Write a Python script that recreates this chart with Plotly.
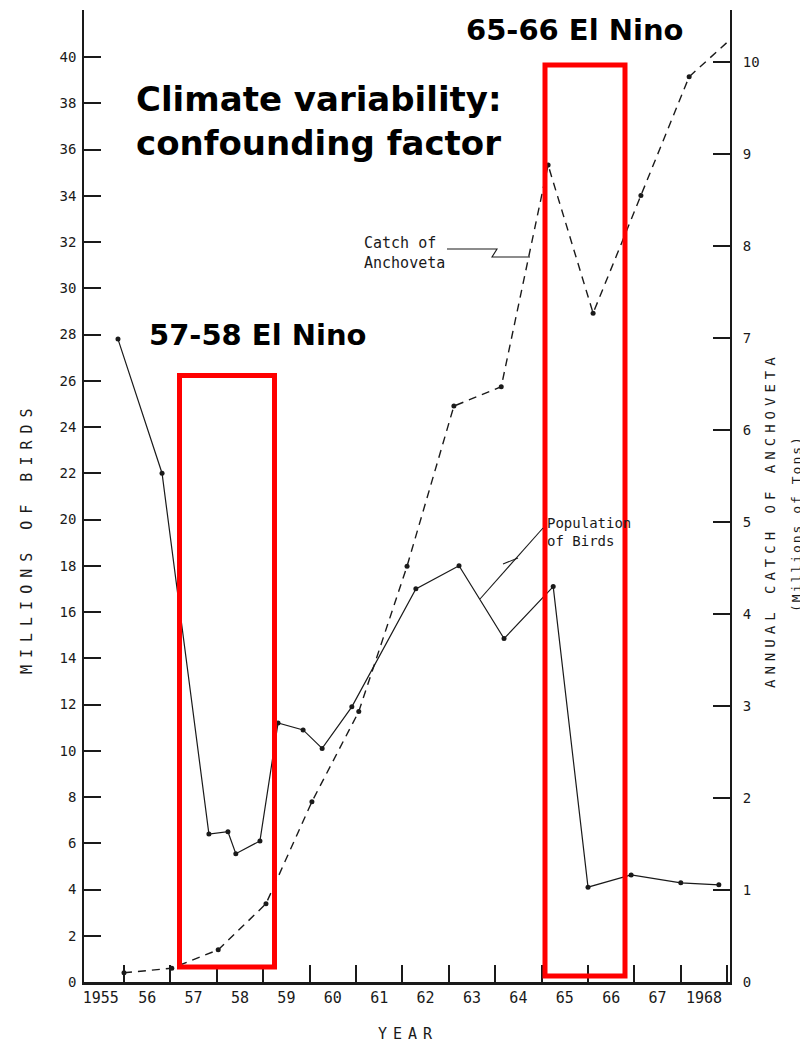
import plotly.graph_objects as go

# ---------------- data ----------------
year_labels = ["1955", "56", "57", "58", "59", "60", "61", "62", "63", "64", "65", "66", "67", "1968"]
label_years = [1955, 1956, 1957, 1958, 1959, 1960, 1961, 1962, 1963, 1964, 1965, 1966, 1967, 1968]

# population of guano birds (millions); census dates in fractional years
bird_time = [1955.37, 1956.32, 1957.33, 1957.74, 1957.91, 1958.43, 1958.82, 1959.36, 1959.77,
             1960.41, 1961.79, 1962.72, 1963.69, 1964.75, 1965.50, 1966.43, 1967.50, 1968.32]
bird_millions = [27.8, 22.0, 6.4, 6.5, 5.55, 6.1, 11.2, 10.9, 10.1,
                 11.9, 17.0, 18.0, 14.85, 17.1, 4.1, 4.63, 4.29, 4.2]

# annual catch of anchoveta (millions of tons), plotted at end of each year
catch_time = [1955.50, 1956.53, 1957.53, 1958.56, 1959.55, 1960.56, 1961.60,
              1962.61, 1963.63, 1964.64, 1965.61, 1966.64, 1967.68, 1968.60]
catch_mt = [0.10, 0.15, 0.35, 0.85, 1.96, 2.94, 4.52, 6.26, 6.47, 8.88, 7.27, 8.55, 9.84, 10.26]

left_ticks = list(range(0, 41, 2))
right_ticks = list(range(0, 11, 1))
year_bounds = [y + 0.5 for y in label_years]

# ---------------- layout geometry (page pixels) ----------------
PAGE_OFF = 8                      # default body margin of the html page
W, H = 808 - PAGE_OFF, 1045 - PAGE_OFF
L, R, T, B = 84, 730, 10, 982     # plot area in page pixels


def px(x):
    return (x - L) / (R - L)


def py(y):
    return (B - y) / (B - T)


INK = "#1a1a1a"
MONO = "DejaVu Sans Mono"

fig = go.Figure()

fig.add_trace(go.Scatter(
    x=bird_time, y=bird_millions, mode="lines+markers",
    line=dict(color=INK, width=1.2),
    marker=dict(color=INK, size=5),
    cliponaxis=False, showlegend=False, yaxis="y"))

fig.add_trace(go.Scatter(
    x=catch_time, y=catch_mt, mode="lines+markers",
    line=dict(color=INK, width=1.4, dash="8px,6px"),
    marker=dict(color=INK, size=5),
    cliponaxis=False, showlegend=False, yaxis="y2"))

# red El Nino boxes and leader lines
shapes = [
    dict(type="rect", xref="paper", yref="paper",
         x0=px(179.5), x1=px(274.5), y0=py(967), y1=py(375.5),
         line=dict(color="#ff0000", width=5)),
    dict(type="rect", xref="paper", yref="paper",
         x0=px(545), x1=px(625), y0=py(976), y1=py(65),
         line=dict(color="#ff0000", width=5)),
    dict(type="path", xref="paper", yref="paper",
         path="M {} {} L {} {} L {} {} L {} {}".format(px(447), py(249), px(497), py(249),
                                                      px(492), py(257), px(530), py(257)),
         line=dict(color=INK, width=1.1)),
    dict(type="line", xref="paper", yref="paper",
         x0=px(543), y0=py(528), x1=px(480), y1=py(599),
         line=dict(color=INK, width=1.1)),
    dict(type="line", xref="paper", yref="paper",
         x0=px(503), y0=py(564), x1=px(518), y1=py(558),
         line=dict(color=INK, width=1.1)),
]

ann = []


def add_text(text, x, y, size, family=MONO, bold=False, angle=0, color=INK,
             xanchor="center", yanchor="middle", align="center"):
    ann.append(dict(text=text, x=px(x), y=py(y), xref="paper", yref="paper",
                    showarrow=False, textangle=angle, xanchor=xanchor, yanchor=yanchor,
                    align=align,
                    font=dict(family=family, size=size, color=color,
                              weight="bold" if bold else "normal")))


add_text("Climate variability:<br>confounding factor", 134, 121, 34,
         family="DejaVu Sans", bold=True, color="#000000", xanchor="left", align="left")
add_text("65-66 El Nino", 464, 30, 29, family="DejaVu Sans", bold=True,
         color="#000000", xanchor="left")
add_text("57-58 El Nino", 147, 335, 29, family="DejaVu Sans", bold=True,
         color="#000000", xanchor="left")

add_text("Catch of<br>Anchoveta", 362, 253, 15, xanchor="left", align="left")
add_text("Population<br>of Birds", 545, 532, 14, xanchor="left", align="left")

add_text('<span style="letter-spacing:7px">MILLIONS OF BIRDS</span>', 27, 538, 15, angle=-90)
add_text('<span style="letter-spacing:5px">ANNUAL CATCH OF ANCHOVETA</span>', 770, 520, 14, angle=-90)
add_text('<span style="letter-spacing:2px">(Millions of Tons)</span>', 796, 524, 13, angle=-90)
add_text('<span style="letter-spacing:6px">YEAR</span>', 408, 1034, 15)

x_lo = 1955.5 + (L - 124) / 46.4
x_hi = 1955.5 + (R - 124) / 46.4

fig.update_layout(
    width=W, height=H,
    margin=dict(l=L - PAGE_OFF, r=W - (R - PAGE_OFF), t=T - PAGE_OFF, b=H - (B - PAGE_OFF)),
    paper_bgcolor="white", plot_bgcolor="white",
    shapes=shapes, annotations=ann,
    xaxis=dict(range=[x_lo, x_hi], tickmode="array", tickvals=label_years,
               ticktext=year_labels, ticks="", showgrid=False, zeroline=False,
               showline=True, linecolor=INK, linewidth=2.5,
               tickfont=dict(family=MONO, size=15, color=INK),
               minor=dict(tickmode="array", tickvals=year_bounds, ticks="inside",
                          ticklen=17, tickwidth=2, tickcolor=INK, showgrid=False)),
    yaxis=dict(range=[0, (B - T) / 23.125], tickmode="array", tickvals=left_ticks,
               ticks="inside", ticklen=17, tickwidth=1.5, tickcolor=INK,
               showgrid=False, zeroline=False, showline=True, linecolor=INK, linewidth=1.6,
               tickfont=dict(family=MONO, size=14, color=INK), ticklabelstandoff=3),
    yaxis2=dict(range=[0, (B - T) / 92.0], tickmode="array", tickvals=right_ticks,
                overlaying="y", side="right", anchor="x",
                ticks="inside", ticklen=17, tickwidth=1.5, tickcolor=INK,
                showgrid=False, zeroline=False, showline=True, linecolor=INK, linewidth=2,
                tickfont=dict(family=MONO, size=14, color=INK), ticklabelstandoff=8),
)

fig.write_html("out.html")
